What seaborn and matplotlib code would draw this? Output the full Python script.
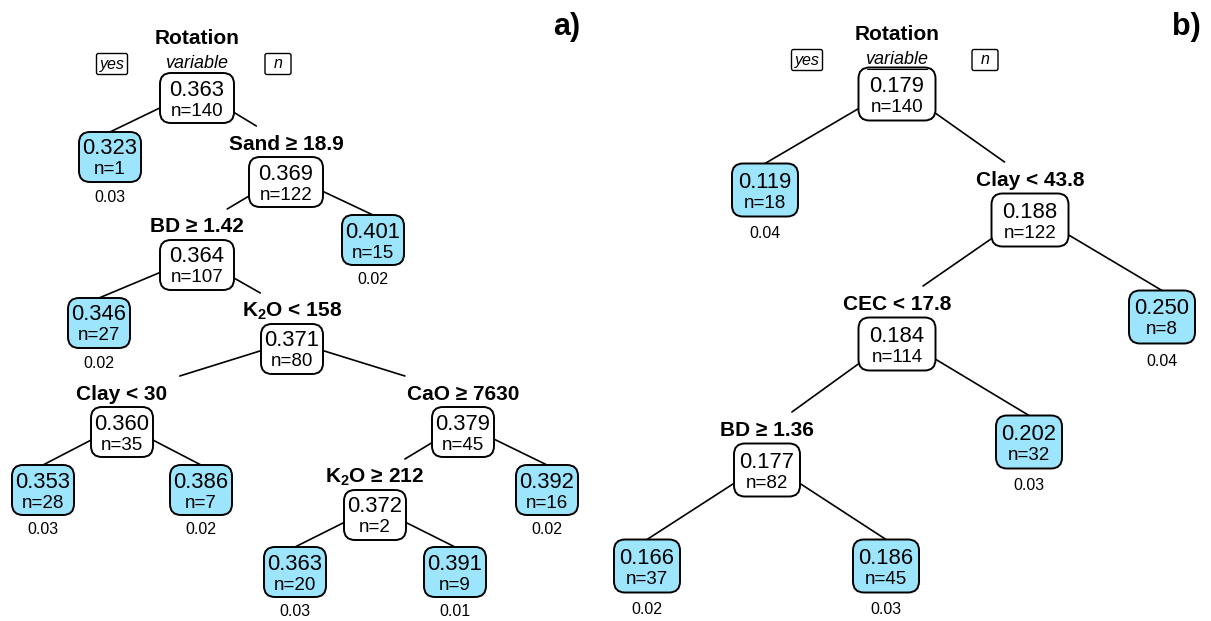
import matplotlib
matplotlib.use("Agg")
import matplotlib.pyplot as plt
from matplotlib.patches import FancyBboxPatch
import seaborn as sns
import pandas as pd

# ---------------- data ----------------
# Panel a) regression tree (preorder)
a_value = [0.363, 0.323, 0.369, 0.364, 0.346, 0.371, 0.360, 0.353, 0.386,
           0.379, 0.372, 0.363, 0.391, 0.392, 0.401]
a_n = [140, 1, 122, 107, 27, 80, 35, 28, 7, 45, 2, 20, 9, 16, 15]
a_parent = [-1, 0, 0, 2, 3, 3, 5, 6, 6, 5, 9, 10, 10, 9, 2]
a_split = ["Rotation", "", "Sand ≥ 18.9", "BD ≥ 1.42", "", r"K$_\mathbf{2}$O < 158",
           "Clay < 30", "", "", "CaO ≥ 7630", r"K$_\mathbf{2}$O ≥ 212", "", "", "", ""]
a_frac = ["", "0.03", "", "", "0.02", "", "", "0.03", "0.02", "", "", "0.03",
          "0.01", "0.02", "0.02"]

# Panel b) regression tree (preorder)
b_value = [0.179, 0.119, 0.188, 0.184, 0.177, 0.166, 0.186, 0.202, 0.250]
b_n = [140, 18, 122, 114, 82, 37, 45, 32, 8]
b_parent = [-1, 0, 0, 2, 3, 4, 4, 3, 2]
b_split = ["Rotation", "", "Clay < 43.8", "CEC < 17.8", "BD ≥ 1.36", "", "", "", ""]
b_frac = ["", "0.04", "", "", "", "0.02", "0.03", "0.03", "0.04"]

root_sub = "variable"
branch_labels = ["yes", "n"]
panel_tags = ["a)", "b)"]

# ---------------- layout (pixel positions of node boxes) ----------------
a_pos = [(197, 98), (110, 157), (286, 182), (197, 265), (99, 323), (292, 349),
         (122, 432), (43, 490), (201, 490), (463, 432), (375, 515), (295, 572),
         (455, 572), (547, 490), (373, 240)]
b_pos = [(897, 94), (765, 190), (1030, 220), (897, 344), (767, 470), (647, 566),
         (886, 566), (1029, 442), (1162, 317)]

sns.set_theme(style="white")
plt.rcParams["font.family"] = ["Liberation Sans", "DejaVu Sans"]
plt.rcParams["text.color"] = "black"
plt.rcParams["mathtext.fontset"] = "custom"
plt.rcParams["mathtext.rm"] = "Liberation Sans"
plt.rcParams["mathtext.bf"] = "Liberation Sans:bold"
plt.rcParams["mathtext.it"] = "Liberation Sans:italic"

fig = plt.figure(figsize=(12.11, 6.21), dpi=100)
ax = fig.add_axes([0, 0, 1, 1])
ax.set_xlim(0, 1211)
ax.set_ylim(621, 0)
ax.axis("off")

LEAF = "#9DE5FC"


def draw_tree(values, ns, parents, splits, fracs, pos, bw_small, bw_big, bh,
              lab_off, frac_off, tag, tag_x, yes_dx, n_dx, underline,
              root_font):
    is_leaf = [i not in parents for i in range(len(values))]
    # edges
    rows = []
    for i, p in enumerate(parents):
        if p < 0:
            continue
        px, py = pos[p]
        sx, sy = px, py - 8
        cx, cy = pos[i]
        if is_leaf[i]:
            ex, ey = cx, cy - bh / 2
        else:
            ly = cy - lab_off
            ey = ly - 18
            t = (ey - sy) / (ly - sy)
            ex = sx + (cx - sx) * t
        rows.append({"x": sx, "y": sy, "e": i})
        rows.append({"x": ex, "y": ey, "e": i})
    df = pd.DataFrame(rows)
    sns.lineplot(data=df, x="x", y="y", units="e", estimator=None, sort=False,
                 color="black", lw=1.2, ax=ax, zorder=1)
    # nodes
    for i, v in enumerate(values):
        cx, cy = pos[i]
        bw = bw_big if ns[i] >= 100 else bw_small
        box = FancyBboxPatch((cx - bw / 2, cy - bh / 2), bw, bh,
                             boxstyle="round,pad=0,rounding_size=11",
                             fc=LEAF if is_leaf[i] else "white", ec="black",
                             lw=1.4, zorder=3)
        ax.add_patch(box)
        ax.text(cx, cy - 8, f"{v:.3f}", ha="center", va="center", fontsize=15.8,
                zorder=4)
        ax.text(cx, cy + 13, f"n={ns[i]}", ha="center", va="center",
                fontsize=13.5, zorder=4)
        if is_leaf[i] and fracs[i]:
            ax.text(cx, cy + frac_off, fracs[i], ha="center", va="center",
                    fontsize=11.5, zorder=4)
        if splits[i]:
            if parents[i] < 0:
                ax.text(cx, cy - 60, splits[i], ha="center", va="center",
                        fontsize=15, fontweight="bold", zorder=4,
                        family=root_font)
                ax.text(cx, cy - 35, root_sub, ha="center", va="center",
                        fontsize=13, style="italic", zorder=4)
                if underline:
                    ax.plot([cx - 30, cx + 30], [cy - 25.5, cy - 25.5],
                            color="black", lw=0.8, zorder=4)
                for dx, s, w in ((yes_dx, branch_labels[0], 31),
                                 (n_dx, branch_labels[1], 26)):
                    bx = FancyBboxPatch((cx + dx - w / 2, cy - 34 - 10.5), w, 21,
                                        boxstyle="round,pad=0,rounding_size=2",
                                        fc="white", ec="black", lw=1.0, zorder=3)
                    ax.add_patch(bx)
                    ax.text(cx + dx, cy - 34, s, ha="center", va="center",
                            fontsize=11.5, style="italic", zorder=4)
            else:
                ax.text(cx, cy - lab_off, splits[i], ha="center", va="center",
                        fontsize=15, fontweight="bold", zorder=4)
    ax.text(tag_x, 27, tag, ha="center", va="center", fontsize=22,
            fontweight="bold")


draw_tree(a_value, a_n, a_parent, a_split, a_frac, a_pos, 62, 74, 50, 38, 40,
          panel_tags[0], 567, -85, 81, False, ["Liberation Sans", "DejaVu Sans"])
draw_tree(b_value, b_n, b_parent, b_split, b_frac, b_pos, 66, 77, 53, 40, 44,
          panel_tags[1], 1186, -90, 88, True,
          ["Liberation Sans Narrow", "Liberation Sans", "DejaVu Sans"])

fig.savefig("out.png", dpi=100)
